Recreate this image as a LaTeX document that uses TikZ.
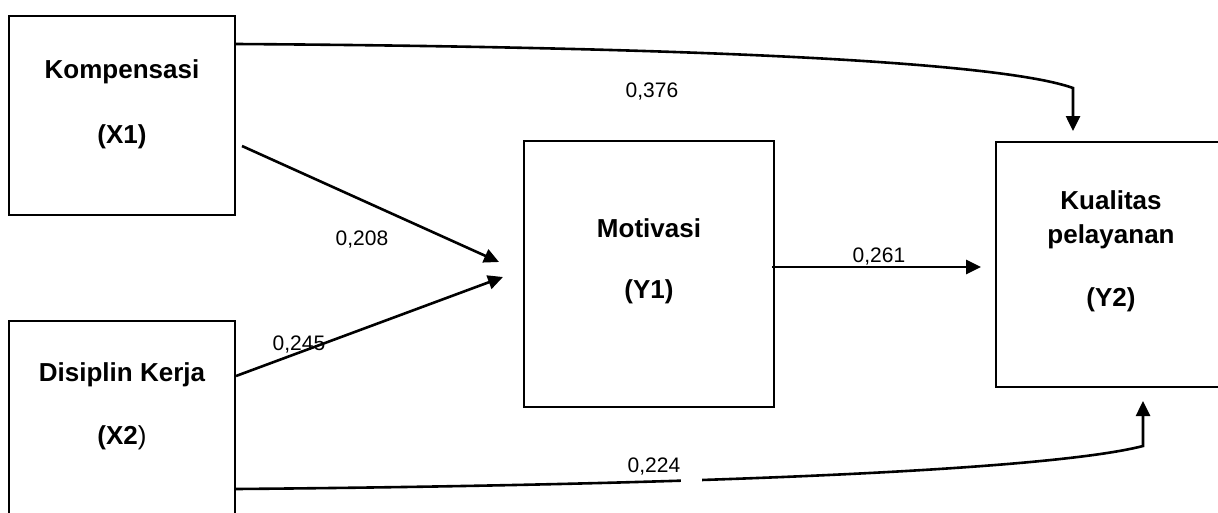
\documentclass[tikz,border=0pt]{standalone}
\usepackage{fontspec}
\setmainfont{Liberation Sans}
\usetikzlibrary{arrows.meta}
\begin{document}
\begin{tikzpicture}[x=1pt,y=-1pt,
  box/.style={draw,line width=2pt,rectangle,inner sep=0pt},
  arr/.style={line width=2.6pt,-{Triangle[length=15pt,width=14pt]}},
  ttl/.style={font=\fontsize{26}{30}\selectfont\bfseries,inner sep=0pt},
  num/.style={font=\fontsize{21}{24}\selectfont,inner sep=0pt}]
\useasboundingbox (0,0) rectangle (1218,512);
\clip (0,0) rectangle (1218,512);
% boxes
\node[box,minimum width=226pt,minimum height=199pt] (x1) at (122,115.5) {};
\node[box,minimum width=226pt,minimum height=209pt] (x2) at (122,425.5) {};
\node[box,minimum width=250pt,minimum height=266pt] (y1) at (649,274) {};
\node[box,minimum width=230pt,minimum height=245pt] (y2) at (1111,264.5) {};
% box texts
\node[ttl] (x1a) at (122,72) {Kompensasi};
\node[ttl] (x1b) at (122,137) {(X1)};
\node[ttl] (x2a) at (122,375) {Disiplin Kerja};
\node[ttl] (x2b) at (122,438) {\textbf{(X2}\mdseries)};
\node[ttl] (y1a) at (649,228) {Motivasi};
\node[ttl] (y1b) at (649,292) {(Y1)};
\node[ttl] (y2a) at (1111,200) {Kualitas};
\node[ttl] (y2b) at (1111,237) {pelayanan};
\node[ttl] (y2c) at (1111,300) {(Y2)};
% connectors
\draw[arr] ([yshift=-29pt]x1.north east) .. controls (700,47) and (1000,62) .. (1073,88) -- ([xshift=-38pt,yshift=10pt]y2.north);
\draw[arr] ([yshift=-169pt]x2.north east) .. controls (700,485) and (1050,470) .. (1143,446) -- ([xshift=32pt,yshift=-13pt]y2.south);
\fill[white] (681,474) rectangle (702,494);
\draw[arr] ([xshift=6pt,yshift=-131pt]x1.north east) -- ([xshift=-24pt,yshift=12pt]y1.west);
\draw[arr] ([yshift=-56pt]x2.north east) -- ([xshift=-20pt,yshift=-3pt]y1.west);
\draw[arr] ([xshift=-3pt,yshift=7pt]y1.east) -- ([xshift=-14pt,yshift=-2.5pt]y2.west);
% coefficients
\node[num] (c376) at (652,92) {0,376};
\node[num] (c208) at (362,240) {0,208};
\node[num] (c245) at (299,345) {0,245};
\node[num] (c261) at (879,257) {0,261};
\node[num] (c224) at (654,467) {0,224};
\end{tikzpicture}
\end{document}
